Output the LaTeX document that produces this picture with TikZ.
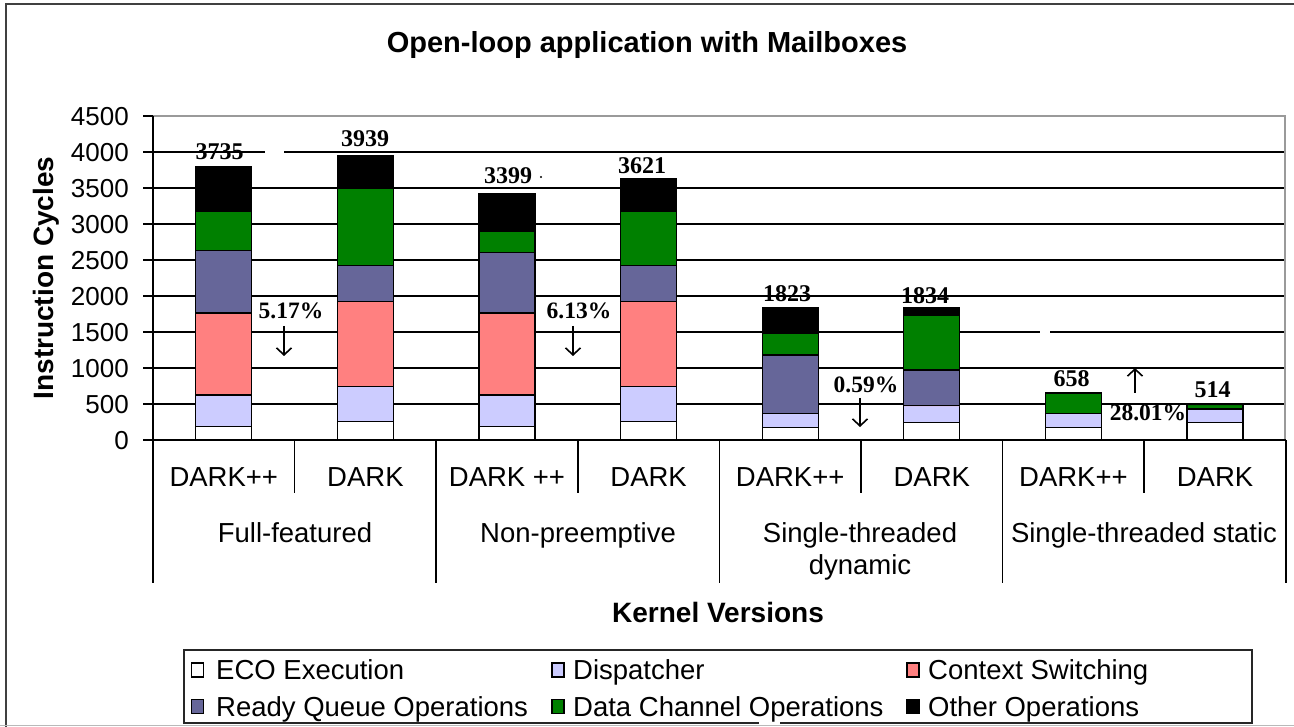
\documentclass[tikz,border=0pt]{standalone}
\usepackage{fontspec}
\setmainfont{Liberation Sans}
\newfontfamily\numfont{Liberation Serif}
\usetikzlibrary{arrows.meta}

% series colours
\definecolor{ecoC}{HTML}{FFFFFF}
\definecolor{dispC}{HTML}{CCCCFF}
\definecolor{ctxC}{HTML}{FF8080}
\definecolor{rqC}{HTML}{666699}
\definecolor{dcC}{HTML}{008000}
\definecolor{othC}{HTML}{000000}
\definecolor{frameC}{HTML}{404040}
\definecolor{borderC}{HTML}{9A9A9A}

\tikzset{
  ticklabel/.style={font=\fontsize{26}{30}\selectfont, anchor=east, inner sep=0pt,
    text height=18.6pt, text depth=0pt},
  axtext/.style={font=\fontsize{27.5}{32}\selectfont, inner sep=0pt,
    text height=19.7pt, text depth=0pt},
  legtext/.style={axtext, anchor=west},
  boldtext/.style={font=\bfseries\fontsize{28}{33}\selectfont, inner sep=0pt,
    text height=20pt, text depth=0pt},
  vallabel/.style={font=\numfont\bfseries\fontsize{24}{28}\selectfont, inner sep=0pt,
    text height=16.2pt, text depth=0pt},
  pctlabel/.style={font=\numfont\bfseries\fontsize{23.5}{28}\selectfont, inner sep=0pt,
    text height=15.9pt, text depth=0pt},
  gridline/.style={line width=1.6pt, black},
  axisline/.style={line width=1.6pt, black},
  seg/.style={draw=black, line width=1.3pt},
  legmark/.style={draw=black, line width=1.3pt, minimum width=12pt, minimum height=14pt,
    inner sep=0pt},
  notearrow/.style={line width=1.6pt, -{Straight Barb[length=7pt,width=15pt]}},
}

\begin{document}
\begin{tikzpicture}[x=1pt, y=-1pt]
\useasboundingbox (0,0) rectangle (1294,727);
\fill[white] (0,0) rectangle (1294,727);

% chart frame
\draw[frameC, line width=2pt] (6,727) -- (6,4) -- (1294,4);
\draw[gray!55, line width=1.5pt] (0,725.5) -- (1294,725.5);

% title
\node[boldtext, font=\bfseries\fontsize{29}{34}\selectfont, text height=20.8pt] (title) at (647,42)
  {Open-loop application with Mailboxes};

% value axis, in chart units
\begin{scope}[shift={(0pt,-440pt)}, y=0.072pt]
  % grid lines
  \foreach \v in {500,1000,2000,2500,3000,3500}
    \draw[gridline] (153,\v) -- (1285,\v);
  \draw[gridline] (153,4000) -- (265,4000);
  \draw[gridline] (284,4000) -- (1285,4000);
  \draw[gridline] (153,1500) -- (1040,1500);
  \draw[gridline] (1050,1500) -- (1285,1500);
  % plot area border
  \draw[borderC, line width=1.5pt] (153,4500) -- (1285,4500) -- (1285,0);

  % stacked bars: cumulative tops of the six series
  \foreach \cx/\va/\vb/\vc/\vd/\ve/\vf in {
     223.8/185/625/1765/2631/3177/3793,
     365.4/255/745/1921/2421/3491/3954,
     507/185/625/1765/2606/2894/3421,
     648.6/255/745/1921/2421/3176/3634,
     790.2/176/370/370/1180/1486/1843,
     931.8/245/477/477/972/1731/1843,
     1073.4/176/370/370/370/653/653,
     1215/245/430/430/430/489/489}
  {
    \draw[seg, fill=ecoC]  ({\cx-28},0)   rectangle ({\cx+28},\va);
    \draw[seg, fill=dispC] ({\cx-28},\va) rectangle ({\cx+28},\vb);
    \draw[seg, fill=ctxC]  ({\cx-28},\vb) rectangle ({\cx+28},\vc);
    \draw[seg, fill=rqC]   ({\cx-28},\vc) rectangle ({\cx+28},\vd);
    \draw[seg, fill=dcC]   ({\cx-28},\vd) rectangle ({\cx+28},\ve);
    \draw[seg, fill=othC]  ({\cx-28},\ve) rectangle ({\cx+28},\vf);
  }
\end{scope}

% axes and ticks
\draw[axisline] (153,116) -- (153,583);
\draw[axisline] (143,440) -- (1286,440);
\foreach \v in {0,500,...,4500}
  \draw[axisline] (143,{440-0.072*\v}) -- (153,{440-0.072*\v});
\foreach \v [count=\i] in {0,500,1000,1500,2000,2500,3000,3500,4000,4500}
  \node[ticklabel] (tick\i) at (129,{440-0.072*\v}) {\v};

% category dividers
\foreach \x in {436.2,719.4,1002.6,1285.8}
  \draw[axisline] (\x,440) -- (\x,583);
\foreach \x in {294.6,577.8,861,1144.2}
  \draw[axisline] (\x,440) -- (\x,493);

% category labels
\node[axtext] (c1) at (223.8,477) {DARK++};
\node[axtext] (c2) at (365.4,477) {DARK};
\node[axtext] (c3) at (507,477) {DARK ++};
\node[axtext] (c4) at (648.6,477) {DARK};
\node[axtext] (c5) at (790.2,477) {DARK++};
\node[axtext] (c6) at (931.8,477) {DARK};
\node[axtext] (c7) at (1073.4,477) {DARK++};
\node[axtext] (c8) at (1215,477) {DARK};
\node[axtext] (g1) at (295,533) {Full-featured};
\node[axtext] (g2) at (578,533) {Non-preemptive};
\node[axtext] (g3) at (860,533) {Single-threaded};
\node[axtext] (g3b) at (860,565) {dynamic};
\node[axtext] (g4) at (1144,533) {Single-threaded static};

% axis titles
\node[boldtext] (xtitle) at (718,612) {Kernel Versions};
\node[boldtext, rotate=90] (ytitle) at (43,278) {Instruction Cycles};

% totals above the bars
\node[vallabel] (t1) at (219.5,151) {3735};
\node[vallabel] (t2) at (365,138.5) {3939};
\node[vallabel] (t3) at (508,175) {3399};
\fill (541,177) circle (1.1pt);
\node[vallabel] (t4) at (642,165.5) {3621};
\node[vallabel] (t5) at (787,293.5) {1823};
\node[vallabel] (t6) at (925,295) {1834};
\node[vallabel] (t7) at (1071.5,378) {658};
\node[vallabel] (t8) at (1212.5,389.5) {514};

% relative differences
\node[pctlabel] (p1) at (291,311) {5.17\%};
\node[pctlabel] (p2) at (579,311) {6.13\%};
\node[pctlabel] (p3) at (866,384.5) {0.59\%};
\node[pctlabel] (p4) at (1148,412.5) {28.01\%};
\coordinate (a1s) at (284,326);  \coordinate (a1e) at (284,356);
\coordinate (a2s) at (573,326);  \coordinate (a2e) at (573,356);
\coordinate (a3s) at (860,398);  \coordinate (a3e) at (860,427);
\coordinate (a4s) at (1135,393); \coordinate (a4e) at (1135,368);
\draw[notearrow] (a1s) -- (a1e);
\draw[notearrow] (a2s) -- (a2e);
\draw[notearrow] (a3s) -- (a3e);
\draw[notearrow] (a4s) -- (a4e);

% legend
\draw[black!85, line width=1.6pt] (780,723) -- (1252,723) -- (1252,650) -- (184,650)
  -- (184,723) -- (759,723);
\node[legmark, fill=ecoC]  (m1) at (197.5,670) {};
\node[legmark, fill=dispC] (m2) at (558,670) {};
\node[legmark, fill=ctxC]  (m3) at (913,670) {};
\node[legmark, fill=rqC]   (m4) at (197.5,706.5) {};
\node[legmark, fill=dcC]   (m5) at (558,706.5) {};
\node[legmark, fill=othC]  (m6) at (913,706.5) {};
\node[legtext] (l1) at (216,670) {ECO Execution};
\node[legtext] (l2) at (573,670) {Dispatcher};
\node[legtext] (l3) at (928,670) {Context Switching};
\node[legtext] (l4) at (216,706.5) {Ready Queue Operations};
\node[legtext] (l5) at (573,706.5) {Data Channel Operations};
\node[legtext] (l6) at (928,706.5) {Other Operations};
\end{tikzpicture}
\end{document}
